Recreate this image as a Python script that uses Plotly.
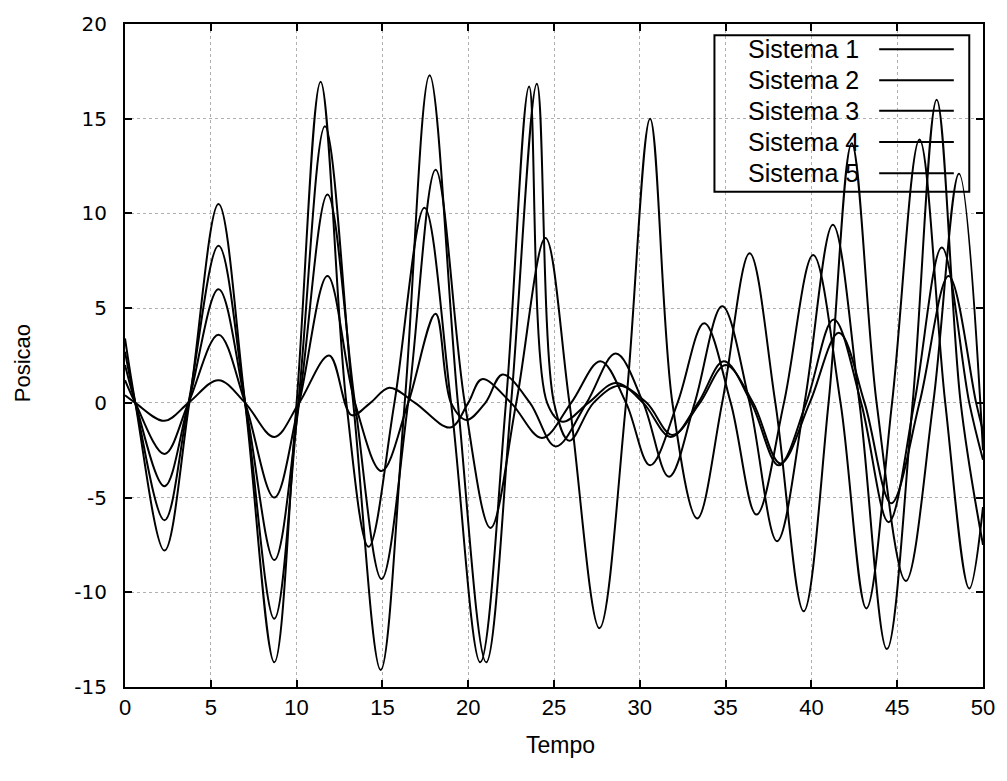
import plotly.graph_objects as go

# ---- data (extrema and zero crossings) ----
series_names = ["Sistema 1", "Sistema 2", "Sistema 3", "Sistema 4", "Sistema 5"]

t_sistema1 = [0, 0.6, 2.3, 3.75, 5.45, 7.0, 8.7, 10.0, 11.4, 12.9, 14.2, 15.7, 17.45, 19.0, 20.7,
              22.2, 23.55, 24.6, 25.5, 27.0, 28.6, 30.2, 31.8, 33.4, 34.9, 36.5, 38.1, 39.7, 41.3,
              42.9, 44.5, 46.0, 47.6, 49.2, 50]
y_sistema1 = [3.4, 0, -7.8, 0, 10.5, 0, -13.7, 0, 16.95, 0, -7.6, 0, 10.3, 0, -13.7,
              0, 16.7, 0, -1.0, 0, 1.05, 0, -1.8, 0, 2.2, 0, -3.3, 0, 4.4,
              0, -6.3, 0, 8.2, 0, -3.0]

t_sistema2 = [0, 0.6, 2.3, 3.7, 5.45, 7.0, 8.7, 10.1, 11.65, 13.3, 14.9, 16.3, 17.75, 19.4, 21.05,
              22.5, 24.0, 25.0, 25.9, 27.3, 28.8, 30.4, 31.9, 33.5, 35.0, 36.6, 38.2, 39.9, 41.6,
              43.1, 44.65, 46.3, 48.0, 49.6, 50]
y_sistema2 = [2.7, 0, -6.2, 0, 8.3, 0, -11.4, 0, 14.6, 0, -14.1, 0, 17.3, 0, -13.7,
              0, 16.85, 0, -2.0, 0, 0.9, 0, -1.7, 0, 2.0, 0, -3.2, 0, 3.7,
              0, -5.3, 0, 6.7, 0, -1.5]

t_sistema3 = [0, 0.6, 2.3, 3.7, 5.45, 7.0, 8.7, 10.15, 11.8, 13.4, 14.95, 16.5, 18.1, 19.8, 21.3,
              22.8, 24.5, 25.9, 27.65, 29.2, 30.6, 31.9, 33.35, 34.8, 36.4, 37.9, 39.55, 41.0,
              42.35, 43.8, 45.5, 47.1, 48.6, 50]
y_sistema3 = [2.0, 0, -4.4, 0, 6.0, 0, -8.3, 0, 11.0, 0, -9.3, 0, 12.3, 0, -6.6,
              0, 8.7, 0, -11.9, 0, 15.0, 0, -6.1, 0, 7.9, 0, -11.0, 0,
              13.7, 0, -9.4, 0, 12.1, -2.5]

t_sistema4 = [0, 0.6, 2.3, 3.7, 5.45, 7.0, 8.7, 10.15, 11.8, 13.4, 14.95, 16.5, 18.1, 19.0, 19.9,
              21.0, 22.0, 23.6, 25.1, 26.9, 28.6, 30.2, 31.7, 33.2, 34.8, 36.4, 38.0, 39.6,
              41.25, 42.8, 44.4, 45.9, 47.3, 48.7, 50]
y_sistema4 = [1.2, 0, -2.7, 0, 3.6, 0, -5.0, 0, 6.7, 0, -3.6, 0, 4.7, 0, -0.9,
              0, 1.5, 0, -2.3, 0, 2.6, 0, -3.9, 0, 5.1, 0, -7.3, 0,
              9.4, 0, -13.0, 0, 16.0, 0, -7.5]

t_sistema5 = [0, 0.6, 2.3, 3.7, 5.45, 7.0, 8.7, 10.15, 11.9, 13.2, 14.3, 15.4, 16.9, 18.95,
              20.0, 20.8, 22.5, 24.3, 26.0, 27.7, 29.2, 30.6, 32.2, 33.75, 35.3, 36.8, 38.4,
              40.1, 41.7, 43.2, 44.7, 46.3, 47.8, 49.2, 50]
y_sistema5 = [0.4, 0, -0.95, 0, 1.2, 0, -1.8, 0, 2.5, -0.65, 0, 0.8, 0, -1.3,
              0, 1.25, 0, -1.85, 0, 2.2, 0, -3.3, 0, 4.2, 0, -5.9, 0,
              7.8, 0, -10.85, 0, 13.9, 0, -9.8, -5.5]

x_ticks = [0, 5, 10, 15, 20, 25, 30, 35, 40, 45, 50]
y_ticks = [-15, -10, -5, 0, 5, 10, 15, 20]
x_title = "Tempo"
y_title = "Posicao"

series_t = [t_sistema1, t_sistema2, t_sistema3, t_sistema4, t_sistema5]
series_y = [y_sistema1, y_sistema2, y_sistema3, y_sistema4, y_sistema5]

fig = go.Figure()
for name, tt, yy in zip(series_names, series_t, series_y):
    fig.add_trace(go.Scatter(x=tt, y=yy, mode="lines", name=name,
                             line=dict(color="black", width=2, shape="spline", smoothing=1.0),
                             showlegend=False))

# gnuplot-style key: text on the left, line sample on the right
key_left, key_right, key_top, key_bottom = 0.687, 0.984, 0.983, 0.747
row_y = [0.962, 0.915, 0.869, 0.822, 0.775]
fig.add_shape(type="rect", xref="paper", yref="paper", x0=key_left, x1=key_right,
              y0=key_bottom, y1=key_top, line=dict(color="black", width=2), layer="above")
for name, ry in zip(series_names, row_y):
    fig.add_annotation(xref="paper", yref="paper", x=0.858, y=ry, text=name, showarrow=False,
                       xanchor="right", yanchor="middle",
                       font=dict(family="Liberation Sans", size=25, color="black"))
    fig.add_shape(type="line", xref="paper", yref="paper", x0=0.879, x1=0.966, y0=ry, y1=ry,
                  line=dict(color="black", width=2), layer="above")

# axis titles placed like the gnuplot output
fig.add_annotation(xref="paper", yref="paper", x=0.508, y=-0.087, text=x_title, showarrow=False,
                   xanchor="center", yanchor="middle",
                   font=dict(family="Liberation Sans", size=23, color="black"))
fig.add_annotation(xref="paper", yref="paper", x=-0.1195, y=0.489, text=y_title, showarrow=False,
                   textangle=-90, xanchor="center", yanchor="middle",
                   font=dict(family="Liberation Sans", size=22, color="black"))

fig.update_layout(
    width=1007, height=781,
    margin=dict(l=125, r=20, t=22, b=94),
    paper_bgcolor="white", plot_bgcolor="white",
    xaxis=dict(range=[0, 50], tickvals=x_ticks, ticktext=[str(v) for v in x_ticks],
               ticks="inside", ticklen=7, tickwidth=1.5,
               tickcolor="black", showline=True, linecolor="black", linewidth=2, mirror="allticks",
               showgrid=True, gridcolor="#b0b0b0", griddash="dot", gridwidth=1, zeroline=False,
               tickfont=dict(family="Liberation Sans", size=22, color="black"),
               ticklabelstandoff=0),
    yaxis=dict(range=[-15, 20], tickvals=y_ticks, ticktext=[str(v) for v in y_ticks],
               ticks="inside", ticklen=7, tickwidth=1.5,
               tickcolor="black", showline=True, linecolor="black", linewidth=2, mirror="allticks",
               showgrid=True, gridcolor="#b0b0b0", griddash="dot", gridwidth=1, zeroline=False,
               tickfont=dict(family="DejaVu Sans", size=20, color="black"),
               ticklabelstandoff=12),
)

fig.write_html("out.html")
